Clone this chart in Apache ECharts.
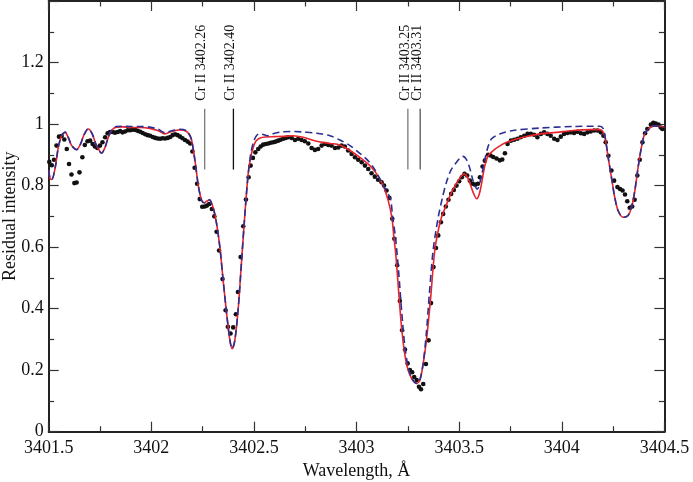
<!DOCTYPE html>
<html>
<head>
<meta charset="utf-8">
<script src="https://cdn.jsdelivr.net/npm/echarts@6/dist/echarts.min.js"></script>
<style>
  html, body { margin: 0; padding: 0; background: #fff; }
  #main { width: 693px; height: 482px; }
</style>
</head>
<body>
<div id="main"></div>
<script>
// observed spectrum (dots)
const obsWave = [
  3401.503, 3401.515, 3401.526, 3401.538, 3401.550, 3401.563, 3401.576, 3401.588, 3401.599, 3401.611,
  3401.625, 3401.636, 3401.650, 3401.664, 3401.676, 3401.689, 3401.702, 3401.714, 3401.725, 3401.737,
  3401.750, 3401.762, 3401.775, 3401.787, 3401.799, 3401.811, 3401.823, 3401.836, 3401.848, 3401.860,
  3401.872, 3401.885, 3401.897, 3401.909, 3401.921, 3401.934, 3401.946, 3401.958, 3401.970, 3401.982,
  3401.994, 3402.007, 3402.019, 3402.031, 3402.043, 3402.055, 3402.067, 3402.080, 3402.092, 3402.104,
  3402.116, 3402.128, 3402.140, 3402.152, 3402.164, 3402.177, 3402.189, 3402.200, 3402.211, 3402.223,
  3402.236, 3402.248, 3402.260, 3402.271, 3402.282, 3402.295, 3402.307, 3402.318, 3402.330, 3402.347,
  3402.362, 3402.373, 3402.386, 3402.399, 3402.412, 3402.422, 3402.435, 3402.448, 3402.461, 3402.474,
  3402.484, 3402.495, 3402.507, 3402.521, 3402.533, 3402.545, 3402.558, 3402.570, 3402.582, 3402.594,
  3402.606, 3402.618, 3402.630, 3402.643, 3402.655, 3402.667, 3402.684, 3402.700, 3402.716, 3402.732,
  3402.748, 3402.765, 3402.781, 3402.797, 3402.813, 3402.830, 3402.846, 3402.862, 3402.878, 3402.895,
  3402.911, 3402.927, 3402.943, 3402.959, 3402.976, 3402.992, 3403.008, 3403.025, 3403.041, 3403.057,
  3403.073, 3403.089, 3403.105, 3403.122, 3403.134, 3403.146, 3403.160, 3403.174, 3403.184, 3403.198,
  3403.211, 3403.222, 3403.236, 3403.249, 3403.260, 3403.271, 3403.281, 3403.293, 3403.304, 3403.314,
  3403.325, 3403.338, 3403.351, 3403.363, 3403.375, 3403.387, 3403.398, 3403.411, 3403.422, 3403.435,
  3403.448, 3403.461, 3403.474, 3403.487, 3403.500, 3403.513, 3403.526, 3403.539, 3403.552, 3403.565,
  3403.578, 3403.591, 3403.601, 3403.614, 3403.625, 3403.641, 3403.653, 3403.666, 3403.682, 3403.698,
  3403.710, 3403.723, 3403.736, 3403.752, 3403.768, 3403.784, 3403.800, 3403.817, 3403.833, 3403.849,
  3403.865, 3403.881, 3403.898, 3403.914, 3403.930, 3403.946, 3403.963, 3403.979, 3403.995, 3404.011,
  3404.028, 3404.044, 3404.060, 3404.076, 3404.093, 3404.109, 3404.125, 3404.141, 3404.158, 3404.174,
  3404.190, 3404.203, 3404.214, 3404.227, 3404.242, 3404.255, 3404.271, 3404.284, 3404.296, 3404.308,
  3404.319, 3404.331, 3404.343, 3404.355, 3404.368, 3404.380, 3404.393, 3404.406, 3404.417, 3404.434,
  3404.446, 3404.458, 3404.471, 3404.482, 3404.490
]
const obsFlux = [
  0.877, 0.866, 0.884, 0.930, 0.959, 0.961, 0.950, 0.919, 0.870, 0.836,
  0.808, 0.810, 0.843, 0.892, 0.932, 0.944, 0.946, 0.935, 0.927, 0.922,
  0.930, 0.941, 0.957, 0.970, 0.974, 0.974, 0.972, 0.974, 0.977, 0.973,
  0.976, 0.980, 0.980, 0.982, 0.981, 0.978, 0.975, 0.971, 0.967, 0.964,
  0.962, 0.958, 0.955, 0.953, 0.952, 0.954, 0.953, 0.955, 0.958, 0.964,
  0.967, 0.964, 0.959, 0.954, 0.948, 0.943, 0.937, 0.911, 0.858, 0.806,
  0.756, 0.731, 0.732, 0.735, 0.740, 0.724, 0.700, 0.650, 0.589, 0.496,
  0.395, 0.341, 0.319, 0.339, 0.382, 0.454, 0.568, 0.668, 0.755, 0.827,
  0.865, 0.890, 0.908, 0.919, 0.927, 0.933, 0.935, 0.937, 0.939, 0.941,
  0.943, 0.946, 0.949, 0.952, 0.955, 0.957, 0.955, 0.948, 0.952, 0.948,
  0.944, 0.937, 0.922, 0.916, 0.919, 0.930, 0.935, 0.932, 0.930, 0.922,
  0.924, 0.930, 0.927, 0.914, 0.903, 0.892, 0.884, 0.876, 0.865, 0.854,
  0.840, 0.829, 0.819, 0.811, 0.800, 0.784, 0.760, 0.692, 0.627, 0.541,
  0.425, 0.330, 0.267, 0.222, 0.200, 0.193, 0.178, 0.168, 0.146, 0.138,
  0.155, 0.220, 0.297, 0.418, 0.535, 0.597, 0.638, 0.681, 0.708, 0.732,
  0.754, 0.773, 0.786, 0.800, 0.814, 0.827, 0.838, 0.833, 0.816, 0.806,
  0.803, 0.806, 0.827, 0.862, 0.881, 0.900, 0.898, 0.893, 0.888, 0.882,
  0.885, 0.905, 0.935, 0.946, 0.949, 0.952, 0.957, 0.962, 0.968, 0.968,
  0.965, 0.957, 0.968, 0.973, 0.968, 0.962, 0.952, 0.948, 0.959, 0.968,
  0.971, 0.973, 0.971, 0.975, 0.970, 0.968, 0.973, 0.976, 0.979, 0.979,
  0.973, 0.962, 0.941, 0.897, 0.849, 0.816, 0.795, 0.789, 0.784, 0.771,
  0.749, 0.728, 0.732, 0.754, 0.833, 0.884, 0.941, 0.970, 0.984, 0.998,
  1.004, 1.002, 0.998, 0.989, 0.984
]

// synthetic spectrum, red solid
const fitWave = [
  3401.500, 3401.507, 3401.515, 3401.531, 3401.547, 3401.563, 3401.580, 3401.596, 3401.612, 3401.636,
  3401.655, 3401.672, 3401.693, 3401.712, 3401.730, 3401.758, 3401.775, 3401.792, 3401.810, 3401.830,
  3401.860, 3401.900, 3401.945, 3401.993, 3402.034, 3402.066, 3402.100, 3402.140, 3402.172, 3402.188,
  3402.197, 3402.213, 3402.229, 3402.245, 3402.258, 3402.272, 3402.284, 3402.295, 3402.305, 3402.318,
  3402.334, 3402.350, 3402.367, 3402.383, 3402.394, 3402.407, 3402.424, 3402.440, 3402.456, 3402.472,
  3402.485, 3402.497, 3402.510, 3402.530, 3402.560, 3402.600, 3402.645, 3402.690, 3402.740, 3402.805,
  3402.870, 3402.919, 3402.968, 3403.016, 3403.065, 3403.098, 3403.130, 3403.154, 3403.172, 3403.182,
  3403.192, 3403.208, 3403.219, 3403.232, 3403.247, 3403.268, 3403.293, 3403.309, 3403.325, 3403.341,
  3403.360, 3403.381, 3403.400, 3403.414, 3403.430, 3403.463, 3403.495, 3403.523, 3403.544, 3403.568,
  3403.585, 3403.601, 3403.625, 3403.641, 3403.666, 3403.700, 3403.731, 3403.812, 3403.893, 3403.974,
  3404.055, 3404.136, 3404.185, 3404.202, 3404.212, 3404.226, 3404.242, 3404.258, 3404.274, 3404.299,
  3404.323, 3404.340, 3404.356, 3404.372, 3404.388, 3404.404, 3404.428, 3404.452, 3404.485, 3404.500
]
const fitFlux = [
  0.850, 0.822, 0.820, 0.856, 0.925, 0.962, 0.973, 0.955, 0.930, 0.917,
  0.935, 0.965, 0.984, 0.968, 0.935, 0.906, 0.925, 0.960, 0.982, 0.990,
  0.991, 0.989, 0.989, 0.986, 0.978, 0.968, 0.976, 0.981, 0.976, 0.962,
  0.946, 0.880, 0.800, 0.752, 0.744, 0.750, 0.754, 0.740, 0.720, 0.676,
  0.600, 0.492, 0.384, 0.297, 0.270, 0.297, 0.405, 0.557, 0.708, 0.838,
  0.895, 0.925, 0.945, 0.955, 0.958, 0.959, 0.960, 0.962, 0.957, 0.944,
  0.937, 0.932, 0.914, 0.892, 0.865, 0.838, 0.800, 0.752, 0.697, 0.632,
  0.570, 0.430, 0.341, 0.265, 0.211, 0.173, 0.157, 0.168, 0.222, 0.300,
  0.427, 0.589, 0.660, 0.697, 0.725, 0.778, 0.816, 0.838, 0.822, 0.778,
  0.757, 0.780, 0.865, 0.897, 0.914, 0.930, 0.941, 0.957, 0.968, 0.973,
  0.979, 0.982, 0.982, 0.974, 0.952, 0.892, 0.827, 0.762, 0.719, 0.697,
  0.703, 0.730, 0.784, 0.860, 0.924, 0.968, 0.987, 0.994, 0.992, 0.990
]

// second synthetic spectrum, blue dashed
const altWave = [
  3401.500, 3401.507, 3401.515, 3401.531, 3401.547, 3401.563, 3401.580, 3401.596, 3401.612, 3401.636,
  3401.655, 3401.672, 3401.693, 3401.712, 3401.730, 3401.758, 3401.775, 3401.792, 3401.810, 3401.830,
  3401.860, 3401.900, 3401.945, 3401.993, 3402.034, 3402.066, 3402.100, 3402.140, 3402.172, 3402.188,
  3402.197, 3402.213, 3402.229, 3402.245, 3402.258, 3402.272, 3402.284, 3402.295, 3402.305, 3402.318,
  3402.334, 3402.350, 3402.367, 3402.383, 3402.394, 3402.407, 3402.424, 3402.440, 3402.456, 3402.472,
  3402.485, 3402.497, 3402.510, 3402.525, 3402.545, 3402.565, 3402.590, 3402.640, 3402.700, 3402.740,
  3402.805, 3402.870, 3402.919, 3402.968, 3403.016, 3403.049, 3403.081, 3403.114, 3403.139, 3403.165,
  3403.176, 3403.190, 3403.205, 3403.220, 3403.235, 3403.250, 3403.268, 3403.293, 3403.309, 3403.325,
  3403.340, 3403.355, 3403.373, 3403.398, 3403.420, 3403.440, 3403.460, 3403.487, 3403.505, 3403.519,
  3403.535, 3403.550, 3403.568, 3403.588, 3403.609, 3403.625, 3403.640, 3403.658, 3403.698, 3403.763,
  3403.893, 3404.055, 3404.185, 3404.202, 3404.212, 3404.226, 3404.242, 3404.258, 3404.274, 3404.299,
  3404.323, 3404.340, 3404.356, 3404.372, 3404.388, 3404.404, 3404.428, 3404.452, 3404.485, 3404.500
]
const altFlux = [
  0.850, 0.822, 0.820, 0.856, 0.925, 0.962, 0.974, 0.956, 0.930, 0.917,
  0.935, 0.965, 0.985, 0.968, 0.935, 0.905, 0.925, 0.960, 0.983, 0.992,
  0.993, 0.992, 0.992, 0.990, 0.983, 0.972, 0.978, 0.983, 0.978, 0.963,
  0.946, 0.880, 0.800, 0.752, 0.744, 0.750, 0.754, 0.740, 0.720, 0.676,
  0.600, 0.492, 0.384, 0.297, 0.270, 0.297, 0.405, 0.557, 0.708, 0.838,
  0.905, 0.940, 0.960, 0.968, 0.966, 0.962, 0.968, 0.975, 0.976, 0.974,
  0.970, 0.962, 0.948, 0.930, 0.905, 0.886, 0.860, 0.822, 0.790, 0.757,
  0.697, 0.630, 0.520, 0.390, 0.280, 0.215, 0.175, 0.157, 0.170, 0.225,
  0.320, 0.450, 0.589, 0.697, 0.765, 0.815, 0.850, 0.876, 0.890, 0.895,
  0.885, 0.860, 0.816, 0.788, 0.833, 0.885, 0.925, 0.952, 0.968, 0.979,
  0.987, 0.992, 0.993, 0.985, 0.955, 0.892, 0.827, 0.762, 0.719, 0.697,
  0.703, 0.730, 0.784, 0.860, 0.924, 0.968, 0.987, 0.994, 0.992, 0.990
]

// line identifications
const lineWaves = [3402.26, 3402.40, 3403.25, 3403.31]
const lineLabels = ["Cr II 3402.26", "Cr II 3402.40", "Cr II 3403.25", "Cr II 3403.31"]
const lineColors = ["#7a7a7a", "#111111", "#7a7a7a", "#555555"]

const FONT = "Liberation Serif"

function zip(xs, ys) {
  return xs.map(function (x, i) { return [x, ys[i]] })
}

function fmt(v) {
  return String(+v.toFixed(2))
}

const chart = echarts.init(document.getElementById("main"), null, { renderer: "canvas" })

const baseAxis = {
  axisLine: { show: true, onZero: false, lineStyle: { color: "#222", width: 2 } },
  axisTick: { show: true, inside: true, length: 10, lineStyle: { color: "#333", width: 1.2 } },
  minorTick: { show: true, splitNumber: 2, length: 5.5, lineStyle: { color: "#333", width: 1.2 } },
  splitLine: { show: false },
  minorSplitLine: { show: false },
}

var option = {
  animation: false,
  backgroundColor: "#fff",
  textStyle: { fontFamily: FONT },
  grid: { left: 48.7, right: 28.6, top: 1, bottom: 50.3, containLabel: false, outerBoundsMode: "none" },
  xAxis: [
    Object.assign({}, baseAxis, {
      type: "value",
      min: 3401.5,
      max: 3404.5,
      interval: 0.5,
      position: "bottom",
      name: "Wavelength, Å",
      nameLocation: "middle",
      nameGap: 31,
      nameMoveOverlap: false,
      nameTextStyle: { fontFamily: FONT, fontSize: 18, color: "#111" },
      axisLabel: { fontFamily: FONT, fontSize: 18, color: "#111", margin: 8, formatter: fmt },
    }),
    Object.assign({}, baseAxis, {
      type: "value",
      min: 3401.5,
      max: 3404.5,
      interval: 0.5,
      position: "top",
      axisLabel: { show: false },
    }),
  ],
  yAxis: [
    Object.assign({}, baseAxis, {
      type: "value",
      min: 0,
      max: 1.4,
      interval: 0.2,
      position: "left",
      name: "Residual intensity",
      nameLocation: "middle",
      nameGap: 29,
      nameMoveOverlap: false,
      nameTextStyle: { fontFamily: FONT, fontSize: 18, color: "#111" },
      axisLabel: { fontFamily: FONT, fontSize: 18, color: "#111", margin: 5, showMaxLabel: false, formatter: fmt },
    }),
    Object.assign({}, baseAxis, {
      type: "value",
      min: 0,
      max: 1.4,
      interval: 0.2,
      position: "right",
      axisLabel: { show: false },
    }),
  ],
  series: [
    {
      name: "observed",
      type: "scatter",
      data: zip(obsWave, obsFlux),
      symbol: "circle",
      symbolSize: 4.6,
      itemStyle: { color: "#111", opacity: 1 },
      z: 2,
    },
    {
      name: "model 1",
      type: "line",
      data: zip(fitWave, fitFlux),
      showSymbol: false,
      smooth: 0.3,
      lineStyle: { color: "#e8232b", width: 1.6 },
      z: 3,
    },
    {
      name: "model 2",
      type: "line",
      data: zip(altWave, altFlux),
      showSymbol: false,
      smooth: 0.3,
      lineStyle: { color: "#2b2f94", width: 1.6, type: [7, 4] },
      z: 4,
    },
    {
      name: "ids",
      type: "custom",
      data: lineWaves.map(function (w, i) { return [w, i] }),
      z: 5,
      renderItem: function (params, api) {
        var i = api.value(1)
        var bottom = api.coord([api.value(0), 0.852])
        var top = api.coord([api.value(0), 1.05])
        var textBase = api.coord([api.value(0), 1.076])
        return {
          type: "group",
          children: [
            {
              type: "line",
              shape: { x1: bottom[0], y1: bottom[1], x2: top[0], y2: top[1] },
              style: { stroke: lineColors[i], lineWidth: 1.3 },
            },
            {
              type: "text",
              x: textBase[0] - 3,
              y: textBase[1],
              rotation: Math.PI / 2,
              style: {
                text: lineLabels[i],
                fontFamily: FONT,
                fontSize: 14,
                fill: "#111",
                align: "left",
                verticalAlign: "middle",
              },
            },
          ],
        }
      },
    },
  ],
}

chart.setOption(option)
</script>
</body>
</html>
